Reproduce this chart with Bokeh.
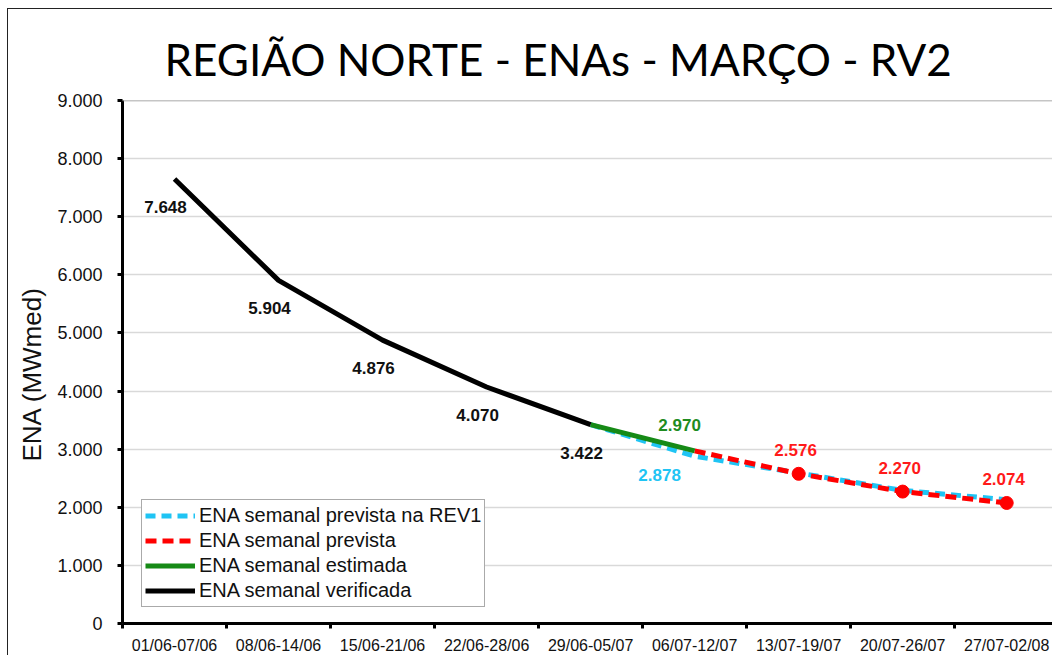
from bokeh.plotting import figure
from bokeh.models import (FixedTicker, Range1d, Span, Legend, LegendItem,
                          ColumnDataSource, Title)
from bokeh.core.properties import value
from bokeh.embed import file_html
from bokeh.resources import INLINE

categories = ["01/06-07/06", "08/06-14/06", "15/06-21/06", "22/06-28/06",
              "29/06-05/07", "06/07-12/07", "13/07-19/07", "20/07-26/07",
              "27/07-02/08"]

verificada_idx = [0, 1, 2, 3, 4]
verificada = [7648, 5904, 4876, 4070, 3422]

estimada_idx = [4, 5]
estimada = [3422, 2970]

rev1_idx = [4, 5, 6, 7, 8]
rev1 = [3422, 2878, 2590, 2290, 2130]

prevista_idx = [5, 6, 7, 8]
prevista = [2970, 2576, 2270, 2074]

y_ticks = [0, 1000, 2000, 3000, 4000, 5000, 6000, 7000, 8000, 9000]

TITLE = "REGIÃO NORTE - ENAs - MARÇO - RV2"
Y_LABEL = "ENA (MWmed)"


def fmt(v):
    return f"{v:,}".replace(",", ".")


W, H = 1045, 647
FL, FT, FB = 108, 91, 31

p = figure(width=W, height=H, output_backend="svg", toolbar_location=None,
           x_range=Range1d(-0.5, 8.45), y_range=Range1d(0, 9000),
           min_border_left=FL, min_border_right=0, min_border_top=FT,
           min_border_bottom=FB, title=TITLE)
p.styles = {"margin-left": "7px", "margin-top": "8px",
            "border-left": "1px solid #222", "border-top": "1px solid #222"}
p.outline_line_color = None
p.background_fill_color = "white"
p.border_fill_color = "white"

p.title.text_font = "Lato"
p.title.text_font_size = "44px"
p.title.text_font_style = "normal"
p.title.text_color = "black"
p.title.align = "left"
p.title.offset = 42
p.title.standoff = 32

# grid
p.xgrid.visible = False
p.ygrid.ticker = FixedTicker(ticks=y_ticks)
p.ygrid.grid_line_color = "#d9d9d9"
p.ygrid.grid_line_width = 1.5
p.add_layout(Span(location=9000, dimension="width", line_color="#8c8c8c",
                  line_width=1.5))

# x axis
xa = p.xaxis[0]
xa.ticker = FixedTicker(ticks=list(range(len(categories))),
                        minor_ticks=[i - 0.5 for i in range(len(categories) + 1)])
xa.major_label_overrides = {i: c for i, c in enumerate(categories)}
xa.axis_line_width = 3
xa.axis_line_color = "black"
xa.major_tick_out = 0
xa.major_tick_in = 0
xa.minor_tick_out = 5
xa.minor_tick_in = 0
xa.minor_tick_line_width = 3
xa.minor_tick_line_color = "black"
xa.major_label_text_font = "Liberation Sans"
xa.major_label_text_font_size = "16px"
xa.major_label_text_color = "#111111"
xa.major_label_standoff = 8

# y axis
ya = p.yaxis[0]
ya.ticker = FixedTicker(ticks=y_ticks)
ya.major_label_overrides = {t: fmt(t) for t in y_ticks}
ya.axis_line_width = 3
ya.axis_line_color = "black"
ya.major_tick_out = 5
ya.major_tick_in = 0
ya.major_tick_line_width = 3
ya.minor_tick_out = 0
ya.minor_tick_in = 0
ya.major_label_text_font = "Liberation Sans"
ya.major_label_text_font_size = "18px"
ya.major_label_text_color = "#111111"
ya.major_label_standoff = 15

# y-axis title (placed as a side title so it can sit slightly below centre)
ytitle = Title(text=Y_LABEL, align="left", offset=162, standoff=14,
               vertical_align="middle",
               text_font="Liberation Sans", text_font_size="26px",
               text_font_style="normal", text_color="#111111")
p.add_layout(ytitle, "left")

# lines
r_rev1 = p.line(rev1_idx, rev1, line_color="#1fc4f4", line_width=5,
                line_dash="10 6")
r_prev = p.line(prevista_idx, prevista, line_color="#ff0000", line_width=5,
                line_dash="11 6")
p.scatter(prevista_idx[1:], prevista[1:], size=13, marker="circle",
          fill_color="#ff0000", line_color="#ff0000")
r_est = p.line(estimada_idx, estimada, line_color="#168a16", line_width=5)
r_ver = p.line(verificada_idx, verificada, line_color="black", line_width=5)


# data labels
def labels(idx, vals, color, dx, dy):
    src = ColumnDataSource(dict(x=idx, y=vals, t=[fmt(v) for v in vals]))
    p.text(x="x", y="y", text="t", source=src, x_offset=dx, y_offset=dy,
           text_align="center", text_baseline="middle",
           text_font=value("Liberation Sans"), text_font_style="bold",
           text_font_size="17px", text_color=color)


labels(verificada_idx, verificada, "#111111", -9, 28)
labels(estimada_idx[1:], estimada[1:], "#1f8c1f", -15, -26)
labels(rev1_idx[1:2], rev1[1:2], "#1fc4f4", -35, 19)
labels(prevista_idx[1:], prevista[1:], "#ff1a1a", -3, -24)

legend = Legend(items=[
    LegendItem(label="ENA semanal prevista na REV1", renderers=[r_rev1]),
    LegendItem(label="ENA semanal prevista", renderers=[r_prev]),
    LegendItem(label="ENA semanal estimada", renderers=[r_est]),
    LegendItem(label="ENA semanal verificada", renderers=[r_ver]),
], location=(19, 16))
legend.margin = 0
legend.padding = 3
legend.spacing = 0
legend.glyph_width = 50
legend.glyph_height = 25
legend.label_height = 25
legend.label_standoff = 4
legend.label_text_font = "Liberation Sans"
legend.label_text_font_size = "20px"
legend.label_text_color = "#111111"
legend.border_line_color = "#555555"
legend.border_line_width = 1
legend.background_fill_color = "white"
legend.background_fill_alpha = 1
p.add_layout(legend)

open("out.html", "w").write(file_html(p, INLINE))
